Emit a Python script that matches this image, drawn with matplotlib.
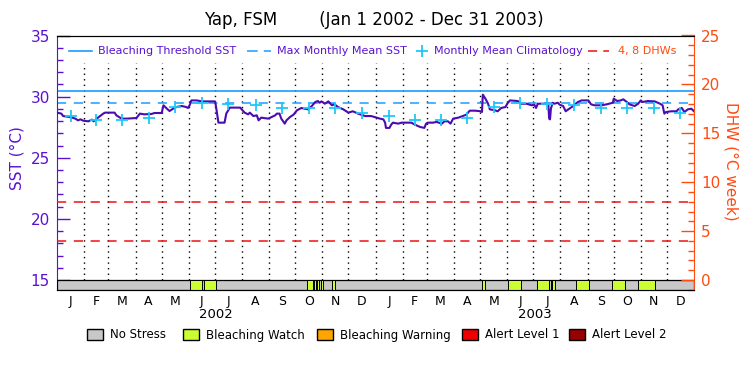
import numpy as np
import matplotlib
matplotlib.use('Agg')
import matplotlib.pyplot as plt
from matplotlib.ticker import MultipleLocator
from matplotlib.patches import Rectangle
from matplotlib.lines import Line2D

# SST, day 0 = Jan 1 2002
sst_day = [0, 5, 7, 15, 21, 24, 27, 30, 36, 40, 42, 47, 53, 55, 66, 68, 74, 80, 91, 95,
           100, 108, 112, 120, 122, 126, 129, 133, 137, 143, 148, 150, 152, 154, 160, 166,
           181, 182, 184, 185, 192, 194, 198, 210, 212, 215, 219, 221, 225, 229, 231, 234,
           242, 246, 250, 252, 255, 257, 261, 263, 267, 271, 275, 280, 284, 288, 292, 296,
           299, 301, 303, 307, 311, 315, 318, 322, 328, 334, 339, 345, 353, 360, 364, 370,
           374, 376, 377, 381, 383, 385, 391, 395, 406, 410, 416, 421, 423, 425, 431, 435,
           441, 444, 448, 451, 454, 460, 465, 469, 473, 479, 486, 487, 488, 491, 494, 496,
           502, 505, 509, 514, 516, 519, 528, 532, 538, 544, 547, 549, 551, 563, 564, 565,
           566, 568, 570, 574, 576, 580, 583, 586, 590, 593, 597, 601, 609, 612, 616, 624,
           630, 637, 638, 642, 646, 649, 653, 656, 662, 666, 669, 671, 677, 685, 691, 694,
           696, 698, 704, 710, 712, 716, 719, 723, 727, 730]
sst_val = [28.69, 28.61, 28.41, 28.33, 28.20, 28.06, 28.14, 28.03, 27.98, 28.12, 27.98, 28.28,
           28.61, 28.69, 28.69, 28.47, 28.20, 28.20, 28.25, 28.61, 28.55, 28.58, 28.66, 28.66,
           29.29, 29.01, 28.82, 29.01, 29.15, 29.23, 29.15, 29.07, 29.29, 29.69, 29.69, 29.61,
           29.61, 29.29, 28.33, 27.87, 27.87, 28.61, 29.10, 29.10, 28.93, 28.69, 28.55, 28.69,
           28.41, 28.47, 28.06, 28.28, 28.20, 28.33, 28.47, 28.61, 28.61, 28.20, 27.79, 28.06,
           28.33, 28.52, 28.88, 29.07, 29.01, 28.96, 29.23, 29.56, 29.64, 29.50, 29.61, 29.42,
           29.61, 29.29, 29.37, 29.15, 28.96, 28.69, 28.80, 28.61, 28.41, 28.41, 28.33, 28.20,
           28.14, 27.87, 27.44, 27.44, 27.71, 27.87, 27.79, 27.87, 27.87, 27.71, 27.52, 27.44,
           27.79, 27.87, 27.87, 27.93, 27.79, 27.98, 27.98, 27.79, 28.20, 28.28, 28.41, 28.52,
           28.85, 28.85, 28.80, 28.74, 30.16, 29.83, 29.42, 28.96, 28.88, 28.80, 29.07, 29.15,
           29.42, 29.69, 29.64, 29.42, 29.42, 29.29, 29.34, 29.07, 29.42, 29.42, 28.20, 28.14,
           29.01, 29.50, 29.42, 29.50, 29.34, 29.23, 28.80, 28.96, 29.15, 29.34, 29.56, 29.69,
           29.69, 29.37, 29.29, 29.29, 29.37, 29.50, 29.83, 29.64, 29.69, 29.78, 29.56, 29.37,
           29.23, 29.42, 29.69, 29.56, 29.64, 29.61, 29.42, 29.29, 28.61, 28.74, 28.80, 28.80,
           28.96, 29.07, 28.74, 28.96, 29.01, 28.80]

# monthly mean climatology (same every year)
clim_vals = [28.41, 28.06, 28.12, 28.28, 29.15, 29.50, 29.42, 29.29, 29.07, 29.07, 29.10, 28.63]
mmm = 29.5
threshold = 30.5
dhw_levels = [4, 8]

# bleaching watch periods (start day, end day)
watch_periods = [(152.7, 166.1), (168.0, 182.1), (286.0, 293.0), (294.4, 297.0), (298.2, 300.5),
                 (302.0, 304.3), (314.6, 318.8), (487.2, 490.3), (516.3, 531.2), (550.6, 564.0),
                 (565.9, 566.8), (567.4, 570.8), (595.3, 609.4), (636.5, 650.6), (665.9, 685.8)]

month_letters = ['J', 'F', 'M', 'A', 'M', 'J', 'J', 'A', 'S', 'O', 'N', 'D'] * 2
years = ['2002', '2003']
stress_names = ['No Stress', 'Bleaching Watch', 'Bleaching Warning', 'Alert Level 1', 'Alert Level 2']
stress_colors = ['#c8c8c8', '#ccff33', '#ffa500', '#ee0000', '#990000']

purple = '#5a12d2'
sst_color = '#4a0cb0'
blue = '#1a9cff'
cyan = '#1cc8f8'
orange = '#ff4a10'
red = '#ee1111'

W, H = 750, 375


def fx(px):
    return px / W


def fy(py):
    return 1 - py / H


# month positions
months = np.arange('2002-01', '2004-02', dtype='datetime64[M]')
starts = (months.astype('datetime64[D]') - np.datetime64('2002-01-01')).astype(int)
mids = (starts[:-1] + starts[1:]) / 2.0
month_starts = starts[1:-1]

ybot = 14.18
fig = plt.figure(figsize=(7.5, 3.75), dpi=100)
ax = fig.add_axes([fx(57), fy(290), fx(694) - fx(57), fy(35.5) - fy(290)])
ax2 = ax.twinx()

ax.set_xlim(0, 730)
ax.set_ylim(ybot, 35)
ax2.set_ylim((ybot - 15) * 1.25, 25)

# dotted month separators
ax.vlines(month_starts, 15, 32.72, colors='black', linestyles=(0, (1, 3)), linewidth=1)

# reference lines
ax.axhline(threshold, color=blue, linewidth=1.2)
ax.axhline(mmm, color=blue, linewidth=1.1, dashes=(6, 5))
for lev in dhw_levels:
    ax2.axhline(lev, color=red, linewidth=1.1, dashes=(6, 5))

ax.plot(sst_day, sst_val, color=sst_color, linewidth=1.5, zorder=4)
ax.plot(mids, clim_vals * 2, linestyle='none', marker='+', markersize=9,
        markeredgewidth=1.3, color=cyan, zorder=5)

# stress bar along the bottom
ax.broken_barh([(0, 730)], (ybot, 15 - ybot), facecolors=stress_colors[0],
               edgecolors='black', linewidth=0.9, zorder=3)
ax.broken_barh([(s, e - s) for s, e in watch_periods], (ybot, 15 - ybot),
               facecolors=stress_colors[1], edgecolors='black', linewidth=0.7, zorder=3)

# axes styling
for a in (ax, ax2):
    a.spines['top'].set_color('black')
    a.spines['bottom'].set_color('black')
ax.spines['left'].set_color(purple)
ax.spines['right'].set_visible(False)
ax2.spines['left'].set_visible(False)
ax2.spines['right'].set_color(orange)

ax.set_yticks([15, 20, 25, 30, 35])
ax.yaxis.set_minor_locator(MultipleLocator(1))
ax.tick_params(axis='y', which='major', direction='in', length=9.5, width=1,
               color=purple, labelcolor=purple, labelsize=11, pad=5)
ax.tick_params(axis='y', which='minor', direction='in', length=4.5, width=1, color=purple)

ax2.set_yticks([0, 5, 10, 15, 20, 25])
ax2.yaxis.set_minor_locator(MultipleLocator(1))
ax2.tick_params(axis='y', which='major', direction='in', length=9.5, width=1,
                color=orange, labelcolor=orange, labelsize=11, pad=5)
ax2.tick_params(axis='y', which='minor', direction='in', length=4.5, width=1, color=orange)

ax.set_xticks(mids)
ax.set_xticklabels(month_letters)
ax.tick_params(axis='x', length=0, labelsize=9, pad=3.5)
for i, yr in enumerate(years):
    ax.text(365 * i + 182.5, -0.097, yr, transform=ax.get_xaxis_transform(),
            ha='center', va='center', fontsize=9.5)

fig.text(fx(17.5), fy(158), 'SST (°C)', rotation=90, ha='center', va='center',
         color=purple, fontsize=11)
fig.text(fx(731.5), fy(161), 'DHW (°C week)', rotation=270, ha='center', va='center',
         color=orange, fontsize=11)
fig.text(fx(374), fy(20), 'Yap, FSM        (Jan 1 2002 - Dec 31 2003)',
         ha='center', va='center', fontsize=12)

# top legend
ly = fy(51)
fig.add_artist(Line2D([fx(69), fx(92)], [ly, ly], color=blue, linewidth=1.2))
fig.text(fx(98), ly, 'Bleaching Threshold SST', color=purple, fontsize=8, va='center')
fig.add_artist(Line2D([fx(247), fx(271)], [ly, ly], color=blue, linewidth=1.1, dashes=(7, 4)))
fig.text(fx(277), ly, 'Max Monthly Mean SST', color=purple, fontsize=8, va='center')
fig.add_artist(Line2D([fx(421.5)], [ly], color=cyan, marker='+', markersize=9,
                      markeredgewidth=1.3, linestyle='none'))
fig.text(fx(434), ly, 'Monthly Mean Climatology', color=purple, fontsize=8, va='center')
fig.add_artist(Line2D([fx(588), fx(609)], [ly, ly], color=red, linewidth=1.1, dashes=(6, 4)))
fig.text(fx(618), ly, '4, 8 DHWs', color=orange, fontsize=8, va='center')

# stress legend
box_x = [87, 183, 317, 462, 569]
for bx, name, col in zip(box_x, stress_names, stress_colors):
    fig.add_artist(Rectangle((fx(bx), fy(340)), fx(16), fy(329) - fy(340),
                             facecolor=col, edgecolor='black', linewidth=1))
    fig.text(fx(bx + 23), fy(335), name, fontsize=8.5, va='center')

plt.savefig('out.png', dpi=100)
